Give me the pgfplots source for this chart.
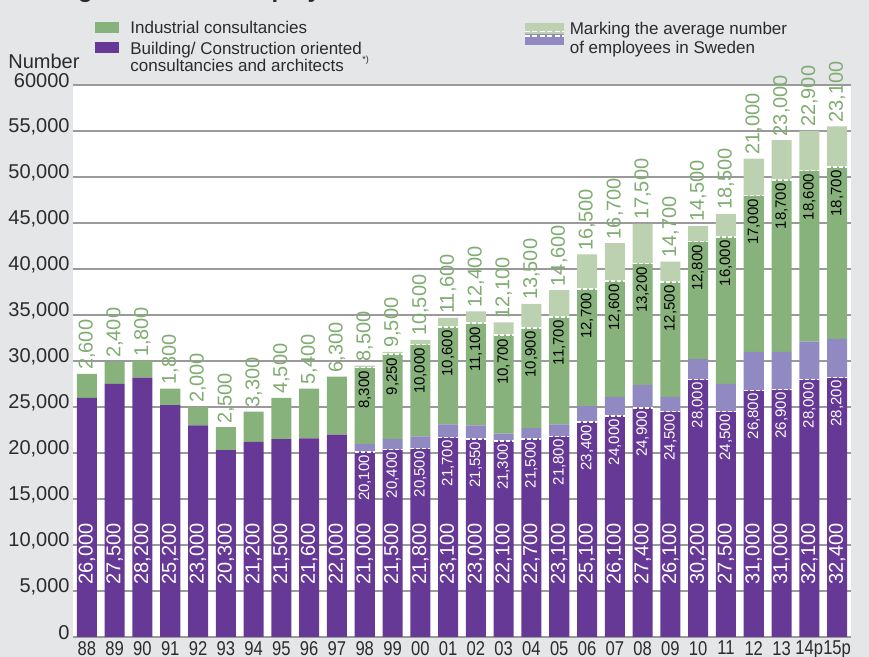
\documentclass[border=0pt]{standalone}
\usepackage{pgfplots}
\pgfplotsset{compat=1.18}
\usepackage{pgfplotstable}
\usepackage{fontspec}
\setmainfont{Liberation Sans}

\definecolor{bg}{HTML}{E5E6E8}
\definecolor{purp}{HTML}{663996}
\definecolor{lpurp}{HTML}{9189C2}
\definecolor{grn}{HTML}{88B27B}
\definecolor{lgrn}{HTML}{BBD1AF}
\definecolor{grnlab}{HTML}{80AC72}
\definecolor{gridc}{HTML}{9A9A9A}
\definecolor{txt}{HTML}{2B2B2B}

% btot/itot = building and industrial totals, bswe/iswe = average employed in Sweden
\pgfplotstableread{
x  btot  bswe  itot  iswe
0  26000 26000 2600  2600
1  27500 27500 2400  2400
2  28200 28200 1800  1800
3  25200 25200 1800  1800
4  23000 23000 2000  2000
5  20300 20300 2500  2500
6  21200 21200 3300  3300
7  21500 21500 4500  4500
8  21600 21600 5400  5400
9  22000 22000 6300  6300
10 21000 20100 8500  8300
11 21500 20400 9500  9250
12 21800 20500 10500 10000
13 23100 21700 11600 10600
14 23000 21550 12400 11100
15 22100 21300 12100 10700
16 22700 21500 13500 10900
17 23100 21800 14600 11700
18 25100 23400 16500 12700
19 26100 24000 16700 12600
20 27400 24900 17500 13200
21 26100 24500 14700 12500
22 30200 28000 14500 12800
23 27500 24500 18500 16000
24 31000 26800 21000 17000
25 31000 26900 23000 18700
26 32100 28000 22900 18600
27 32400 28200 23100 18700
}\data

\pgfplotsset{
  /pgf/number format/assume math mode=true,
  base/.style={at={(0,0)}, anchor=south west, scale only axis,
    width=389pt, height=276pt, xmin=-0.5, xmax=27.5, ymin=0, ymax=60000},
  lab/.style={draw=none, point meta=explicit,
    nodes near coords={\pgfmathprintnumber[fixed,precision=0,1000 sep={,},assume math mode=true]{\pgfplotspointmeta}}},
}

\begin{document}
\begin{tikzpicture}
\fill[bg] (-36.5pt,-10pt) rectangle (398pt,318.5pt);
\useasboundingbox (-36.5pt,-10pt) rectangle (398pt,318.5pt);

\begin{axis}[base,
  ybar stacked, bar width=0.72,
  axis background/.style={fill=white},
  axis line style={draw=none},
  major tick length=0pt,
  scaled y ticks=false,
  ymajorgrids, grid style={gridc, line width=0.6pt},
  ytick={0,5000,...,60000},
  yticklabels={0,{5,000},{10,000},{15,000},{20,000},{25,000},{30,000},{35,000},{40,000},{45,000},{50,000},{55,000},60000},
  xtick={0,...,27},
  xticklabels={88,89,90,91,92,93,94,95,96,97,98,99,00,01,02,03,04,05,06,07,08,09,10,11,12,13,14p,15p},
  yticklabel style={font=\fontsize{10}{10}\selectfont, text=txt, inner sep=0pt, xshift=-1.5pt, yshift=2.25pt},
  xticklabel style={font=\fontsize{10}{10}\selectfont, text=txt, inner sep=0pt, yshift=-1.85pt, xscale=0.83},
]
\addplot[fill=purp, draw=none] table[x=x, y=bswe] {\data};
\addplot[fill=lpurp, draw=none] table[x=x, y expr=\thisrow{btot}-\thisrow{bswe}] {\data};
\addplot[fill=grn, draw=none] table[x=x, y=iswe] {\data};
\addplot[fill=lgrn, draw=none] table[x=x, y expr=\thisrow{itot}-\thisrow{iswe}] {\data};
\end{axis}

\begin{axis}[base, hide axis, clip=false]
% dashed markers of the Sweden average
\addplot[white, line width=0.8pt, dash pattern=on 2pt off 1pt, quiver={u=0.72, v=0}, restrict x to domain=9:28]
  table[x expr=\thisrow{x}-0.36, y=bswe] {\data};
\addplot[white, line width=0.8pt, dash pattern=on 2pt off 1pt, quiver={u=0.72, v=0}, restrict x to domain=9:28]
  table[x expr=\thisrow{x}-0.36, y expr=\thisrow{btot}+\thisrow{iswe}] {\data};
% building totals
\addplot[lab, nodes near coords style={rotate=90, anchor=west, inner sep=0pt, white, font=\fontsize{10}{10}\selectfont}]
  table[x=x, y expr=5650, meta=btot] {\data};
% building, Sweden
\addplot[lab, restrict x to domain=9.5:28, nodes near coords style={rotate=90, anchor=east, inner sep=1.3pt, white, font=\fontsize{7.5}{8}\selectfont}]
  table[x=x, y=bswe, meta=bswe] {\data};
% industrial, Sweden
\addplot[lab, restrict x to domain=9.5:28, nodes near coords style={rotate=90, anchor=east, inner sep=1.6pt, black, font=\fontsize{7.5}{8}\selectfont}]
  table[x=x, y expr=\thisrow{btot}+\thisrow{iswe}, meta=iswe] {\data};
% industrial totals
\addplot[lab, nodes near coords style={rotate=90, anchor=west, inner sep=1.8pt, grnlab, font=\fontsize{10}{10}\selectfont}]
  table[x=x, y expr=\thisrow{btot}+\thisrow{itot}, meta=itot] {\data};
\end{axis}

% title (cropped at the top edge)
\node[anchor=base west, inner sep=0pt, font=\bfseries\fontsize{12}{12}\selectfont, text=txt] at (-30.5pt,319.5pt) {Average number of employees};
\node[anchor=base west, inner sep=0pt, font=\fontsize{10}{10}\selectfont, text=txt] at (-32.5pt,284.3pt) {Number};

% legend
\fill[grn] (11pt,302pt) rectangle (23pt,307.5pt);
\fill[purp] (11pt,292pt) rectangle (23pt,297.5pt);
\begin{scope}[every node/.style={anchor=base west, inner sep=0pt, text=txt, font=\fontsize{8.5}{9}\selectfont}]
\node at (28.5pt,301.5pt) {Industrial consultancies};
\node at (28.5pt,291.3pt) {Building/ Construction oriented};
\node at (28.5pt,282.7pt) {consultancies and architects};
\node[font=\fontsize{4.5}{5}\selectfont] at (144.5pt,287pt) {*)};
\node at (248.2pt,301pt) {Marking the average number};
\node at (248.2pt,291.8pt) {of employees in Sweden};
\end{scope}
\fill[lgrn] (226pt,301.5pt) rectangle (245.5pt,306.85pt);
\fill[lpurp] (226pt,296pt) rectangle (245.5pt,301.5pt);
\draw[white, line width=0.6pt, dash pattern=on 2.5pt off 1.2pt] (226pt,302.7pt) -- (245.5pt,302.7pt);
\draw[white, line width=0.6pt, dash pattern=on 2.5pt off 1.2pt] (226pt,300.5pt) -- (245.5pt,300.5pt);
\end{tikzpicture}
\end{document}
